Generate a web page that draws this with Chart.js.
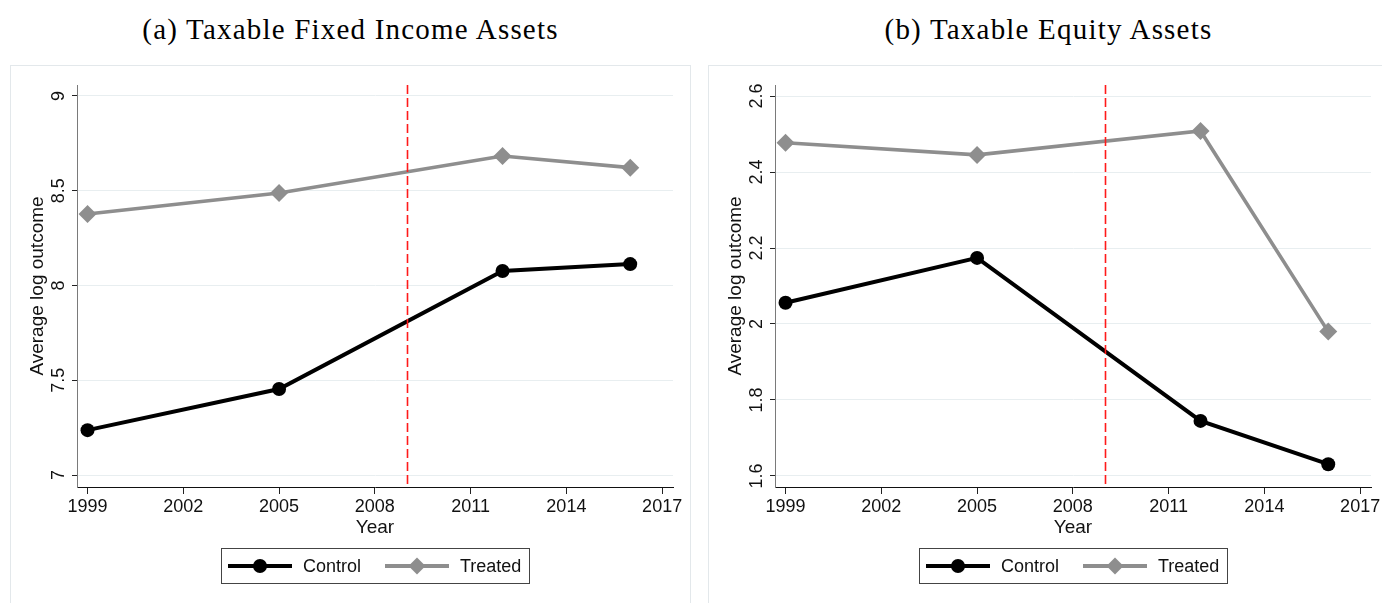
<!DOCTYPE html>
<html lang="en">
<head>
<meta charset="UTF-8" />
<title>Taxable assets: treated vs control</title>
<script src="https://cdn.jsdelivr.net/npm/chart.js"></script>
<style>
    body {
        margin: 0;
        background: #fff;
        width: 1382px;
        height: 603px;
        overflow: hidden;
        position: relative;
    }
    .title {
        position: absolute;
        top: 15px;
        width: 681px;
        text-align: center;
        font-family: "Liberation Serif", "Times New Roman", serif;
        font-size: 29px;
        letter-spacing: 1.2px;
        line-height: 28px;
        color: #000;
    }
    .panel {
        position: absolute;
        top: 65px;
        width: 679px;
        height: 560px;
        border: 1px solid #e3e8eb;
        background: #fff;
    }
    .panel canvas {
        position: absolute;
        left: 0;
        top: 0;
    }
    .legend {
        position: absolute;
        left: 210px;
        top: 482px;
        width: 307px;
        height: 34px;
        border: 1px solid #444;
        font-family: "Liberation Sans", Arial, sans-serif;
        font-size: 18px;
        color: #111;
    }
    .legend .line {
        position: absolute;
        top: 15px;
        width: 64px;
        height: 4px;
    }
    .legend .mark {
        position: absolute;
    }
    .legend .text {
        position: absolute;
        top: 5px;
        line-height: 24px;
    }
</style>
</head>
<body>
<div class="title" style="left: 10px">(a) Taxable Fixed Income Assets</div>
<div class="title" style="left: 708px">(b) Taxable Equity Assets</div>

<div class="panel" style="left: 10px">
    <canvas id="fixedIncome" width="679" height="490"></canvas>
    <div class="legend" id="legendA"></div>
</div>
<div class="panel" style="left: 708px">
    <canvas id="equity" width="679" height="490"></canvas>
    <div class="legend" id="legendB"></div>
</div>

<script>
    const years = [1999, 2005, 2012, 2016];
    const xTicks = [1999, 2002, 2005, 2008, 2011, 2014, 2017];
    const cutoffYear = 2009;
    const seriesNames = ["Control", "Treated"];

    // (a) fixed income
    const fixedControl = [7.237, 7.454, 8.077, 8.113];
    const fixedTreated = [8.377, 8.488, 8.683, 8.622];
    const fixedTicks = [7, 7.5, 8, 8.5, 9];

    // (b) equity
    const equityControl = [2.056, 2.174, 1.745, 1.631];
    const equityTreated = [2.477, 2.445, 2.508, 1.98];
    const equityTicks = [1.6, 1.8, 2, 2.2, 2.4, 2.6];

    const colors = { Control: "#000000", Treated: "#8e8e8e" };
    const sansFont = '"Liberation Sans", Arial, sans-serif';
    const tickFont = { family: sansFont, size: 18 };
    const titleFont = { family: sansFont, size: 19 };

    // dashed vertical line at the reform year
    const cutoffLine = {
        id: "cutoffLine",
        afterDatasetsDraw(chart) {
            const { ctx, chartArea, scales } = chart;
            const x = Math.round(scales.x.getPixelForValue(cutoffYear)) + 0.5;
            ctx.save();
            ctx.strokeStyle = "#ff1a1a";
            ctx.lineWidth = 1.6;
            ctx.setLineDash([9, 4]);
            ctx.beginPath();
            ctx.moveTo(x, chartArea.top);
            ctx.lineTo(x, chartArea.bottom);
            ctx.stroke();
            ctx.restore();
        },
    };

    function makePanel(id, control, treated, yTicks, yMin, yMax) {
        const toPoints = (vals) => vals.map((v, i) => ({ x: years[i], y: v }));
        return new Chart(document.getElementById(id), {
            type: "line",
            data: {
                datasets: [
                    {
                        label: "Control",
                        data: toPoints(control),
                        borderColor: colors.Control,
                        backgroundColor: colors.Control,
                        borderWidth: 4,
                        pointStyle: "circle",
                        pointRadius: 7,
                        pointBorderWidth: 0,
                        tension: 0,
                    },
                    {
                        label: "Treated",
                        data: toPoints(treated),
                        borderColor: colors.Treated,
                        backgroundColor: colors.Treated,
                        borderWidth: 3.6,
                        pointStyle: "rectRot",
                        pointRadius: 9,
                        pointBorderWidth: 0,
                        tension: 0,
                    },
                ],
            },
            options: {
                responsive: false,
                animation: false,
                layout: { padding: { top: 19, right: 17, left: 0, bottom: 0 } },
                plugins: {
                    legend: { display: false }, // HTML legend below
                    tooltip: { enabled: false },
                },
                scales: {
                    x: {
                        type: "linear",
                        min: 1998.67,
                        max: 2017.34,
                        afterBuildTicks: (s) => {
                            s.ticks = xTicks.map((v) => ({ value: v }));
                        },
                        afterFit: (s) => {
                            s.height = 69;
                        },
                        grid: {
                            drawOnChartArea: false,
                            tickLength: 7,
                            tickColor: "#222",
                        },
                        border: { color: "#111", width: 1 },
                        ticks: {
                            font: tickFont,
                            color: "#111",
                            padding: 2,
                            maxRotation: 0,
                            autoSkip: false,
                            callback: (v) => String(v),
                        },
                        title: {
                            display: true,
                            text: "Year",
                            font: titleFont,
                            color: "#111",
                            padding: { top: 0, bottom: 17 },
                        },
                    },
                    y: {
                        min: yMin,
                        max: yMax,
                        afterBuildTicks: (s) => {
                            s.ticks = yTicks.map((v) => ({ value: v }));
                        },
                        afterFit: (s) => {
                            s.width = 66;
                        },
                        grid: {
                            color: "#e8eef0",
                            lineWidth: 1,
                            tickLength: 5,
                            tickColor: "#222",
                        },
                        border: { color: "#7a7a7a", width: 1 },
                        ticks: {
                            font: tickFont,
                            color: "#111",
                            minRotation: 90,
                            maxRotation: 90,
                            crossAlign: "center",
                            padding: 0,
                            callback: (v) => String(+v.toFixed(1)),
                        },
                        title: {
                            display: true,
                            text: "Average log outcome",
                            font: titleFont,
                            color: "#111",
                            padding: { top: 15, bottom: 0 },
                        },
                    },
                },
            },
            plugins: [cutoffLine],
        });
    }

    makePanel("fixedIncome", fixedControl, fixedTreated, fixedTicks, 6.937, 9.058);
    makePanel("equity", equityControl, equityTreated, equityTicks, 1.571, 2.629);

    // legend: line with marker, then series name
    function buildLegend(id) {
        const box = document.getElementById(id);
        const lineLeft = [6, 163];
        const textLeft = [81, 238];
        seriesNames.forEach((name, i) => {
            const c = colors[name];
            const line = document.createElement("div");
            line.className = "line";
            line.style.left = lineLeft[i] + "px";
            line.style.background = c;
            box.appendChild(line);

            const mark = document.createElement("div");
            mark.className = "mark";
            mark.style.background = c;
            if (name === "Control") {
                mark.style.width = mark.style.height = "14px";
                mark.style.borderRadius = "50%";
                mark.style.left = lineLeft[i] + 25 + "px";
                mark.style.top = "10px";
            } else {
                mark.style.width = mark.style.height = "12px";
                mark.style.transform = "rotate(45deg)";
                mark.style.left = lineLeft[i] + 26 + "px";
                mark.style.top = "11px";
            }
            box.appendChild(mark);

            const text = document.createElement("span");
            text.className = "text";
            text.style.left = textLeft[i] + "px";
            text.textContent = name;
            box.appendChild(text);
        });
    }
    buildLegend("legendA");
    buildLegend("legendB");
</script>
</body>
</html>
